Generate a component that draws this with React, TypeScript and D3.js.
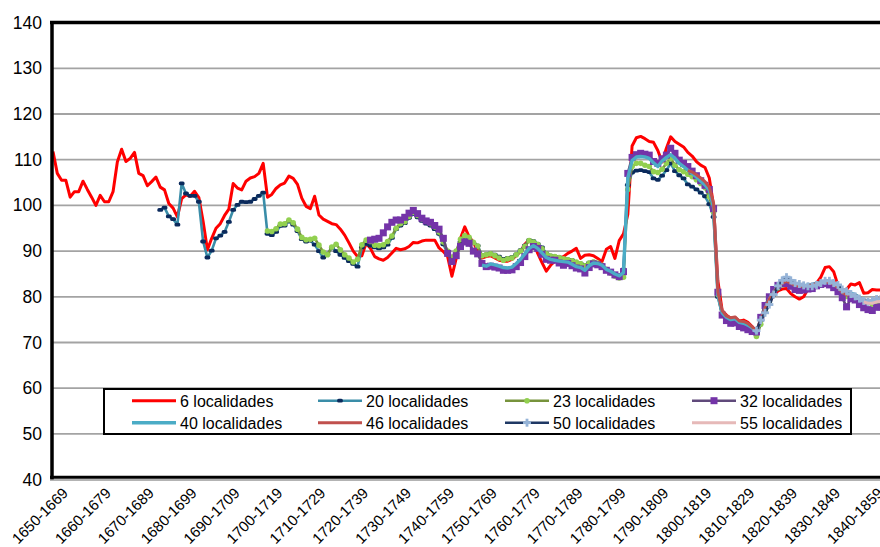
import React from 'react';
import * as d3 from 'd3';

const W = 880;
const H = 547;

const tickLabels = ['1650-1669','1660-1679','1670-1689','1680-1699','1690-1709','1700-1719','1710-1729','1720-1739','1730-1749','1740-1759','1750-1769','1760-1779','1770-1789','1780-1799','1790-1809','1800-1819','1810-1829','1820-1839','1830-1849','1840-1859'];
const yTicks = [40, 50, 60, 70, 80, 90, 100, 110, 120, 130, 140];

// each series: first start-year of its 20-year window, then one value per year
const s6Start = 1650;
const s6 = [111.8,107,105.5,105.5,101.8,103,103,105.3,103.5,101.8,
100,102.2,100.8,100.8,103,109.5,112.3,109.6,110.3,111.6,
107,106.5,104.3,105.2,106.2,104,103.4,100.4,99.4,97.5,
101.5,102.3,102,103.1,101.7,96.5,90.3,92.8,95,96,
97.8,99.2,104.8,103.8,103.4,105.3,106,106.3,107,109.2,
101.8,102.4,103.7,104.5,104.9,106.4,105.9,104.6,101.6,99.8,
99.3,102,97.9,97,96.5,96,95.8,94.8,93.5,91.8,
90,88.8,89,91.7,90.6,88.8,88.3,88,88.6,89.6,
90.6,90.3,90.5,91,91.9,91.8,92.2,92.4,92.4,92.4,
90.7,89.9,88.8,84.5,88.4,92.8,95.3,93.1,92,89.9,
88.5,88.8,89,88.5,88,87.8,87.8,88.2,89,90,
91.5,92.5,92,89.5,87.5,85.6,86.9,87.8,88.3,88.8,
89.5,90,90.6,88.4,89.1,89.2,89,88.4,87.7,90.4,
91,88.4,92.3,93.8,98,113,114.8,115.1,114.6,114,
113.8,112,109.5,112.5,115,114,113.4,112.8,111.6,110.8,
109.6,108.8,108.3,106,100,83.5,77,76,75.3,75.5,
74.7,74.9,74.4,73.5,72.4,74.8,77,78.9,80.3,81.3,
81.7,81.8,80.7,80,79.5,80,81.7,82.5,83,84.3,
86.4,86.6,85.5,82.5,81.4,81.6,82.8,82.6,83.1,80.8,
80.9,81.6,81.5,81.5];

const s20Start = 1675;
const s20 = [99,99.5,97.6,97,95.8,104.8,102.6,102.1,102.1,100.8,
92.1,88.6,90.1,92.8,93.4,94.2,96.4,99,100.1,100.8,
100.7,100.8,101.4,102.1,102.8,93.8,93.5,94.2,95.5,95.6,
96.5,95.8,94.4,92.6,92.1,92.3,91.4,90,88.6,89.3,
90.8,90,89.2,88.5,87.8,87.2,86.6,90.8,91.6,91.2,
90.8,90.6,90.8,91.4,92.9,94.8,95.6,96.1,97.3,98.2,
97.4,96.6,96,95.6,94.8,93.8,91.5,89.5,88,89.5,
92,93.2,92.8,91.8,91.2,89,89.3,89.5,89.2,88.8,
88.3,88.5,88.7,89.3,90.2,91.2,92.4,92.2,91.6,90.8,
89.5,89,88.8,88.7,88.3,88.2,88,87.5,87.3,87,
87.5,87.7,87.3,86.8,86,85.4,84.8,84.5,86,104.5,
107.2,107.6,107.7,107.5,107.3,105.9,105.6,106.5,107.7,109.2,
107.5,106.6,105.9,104.6,104.1,103.5,102.8,102,100.3,97.5,
80,76,75,74.8,75,74.3,74.2,73.7,73,72,
74.8,77,79,80.5,81.8,82.8,83.5,83,82.2,82,
82,82.2,82.2,82.5,82.8,83,82.8,82.4,81.8,80.8,
80.3,80.6,80.2,79.6,79.2,78.8,78.6,79,79];

const s23Start = 1700;
const s23 = [94.4,94.3,94.9,95.9,96,96.8,96.2,94.8,93,92.5,
92.6,92.8,91.3,89.8,89.2,90.9,91.5,90.3,89.2,88.5,
87.6,88.2,91.4,92.4,92.1,91.3,91.2,91.4,92.1,93.3,
95,96,96.4,97.6,98.5,97.8,97,96.5,96,95.3,
94.2,92,90,88.6,90,92.6,93.4,93,91.9,91.1,
89,89.2,89.4,89,88.5,88,88.3,88.5,89.2,90,
91,92.3,92,91.5,90.5,89.4,88.9,88.8,88.6,88.3,
88.1,87.9,87.6,87.2,86.8,87.4,87.6,87.4,86.9,86,
85.2,84.5,84.1,84.3,103.5,108.5,109.2,109.2,108.8,108.5,
107.4,107.2,107.9,109.2,110.3,108.8,107.8,107.4,106.8,106.3,
105.6,104.8,103.9,101.9,98.5,80.5,76,75.2,74.8,74.9,
74.2,73.8,73.3,72.6,71.3,74,76.8,79.2,80.8,82,
82.6,83.1,82.8,82.2,81.9,81.9,82.1,82.2,82.4,82.6,
82.8,82.6,82.3,81.6,80.7,80.1,80.4,80,79.4,79,
78.7,78.4,78.8,78.8];

const s32Start = 1724;
const s32 = [92.4,92.6,92.8,94,95.3,96.3,96.8,96.8,97.4,98.3,
98.9,98.2,97.2,96.6,96.3,95.6,94.8,92.8,89.5,87.7,
89,91,92,91.7,90,89.4,87.3,86.6,86.7,86.5,
86.3,85.8,85.8,85.9,86.6,87.5,88.8,90.3,91,90.6,
89.3,88.2,88,88,87.4,86.9,87.3,86.8,86.3,86.1,
85.2,86.4,87.2,87,86.6,85.8,85.4,84.8,84.4,85.5,
107,110.5,111.1,111.4,111.2,111,109.6,109.2,110.2,111,
112.5,111.4,109.9,109.2,108.5,107.5,106.5,105.4,104.4,103.5,
99.3,81,76,74.8,74.2,74.3,73.5,73.2,72.8,72.4,
72.3,75.5,78.1,80,81.6,82.5,82.9,82.9,82.3,81.6,
81.4,81.5,81.7,81.8,82.4,82.7,82.9,82.6,82,81.1,
79.8,77.8,79.6,79.3,78.3,77.6,77.2,77,77.7,77.8];

const s40Start = 1750;
const s40 = [86.9,86.7,87.2,87,86.7,86.4,86.3,86.5,87.3,88.2,
89.4,90.6,91.2,90.6,89.6,88.6,88.2,88,87.8,87.7,
87.6,87.1,86.6,86.4,85.8,86.8,87.4,87.3,86.9,86,
85.6,85,84.6,85.3,106,109.8,110.6,110.7,110.6,110.3,
109.3,108.5,109.7,110.5,111.1,110.3,109.2,108.5,107.7,107,
106.2,105.3,104.5,103.3,99.5,80.5,76.5,75.5,75,75.2,
74.4,74.2,73.8,73.2,72.2,74.8,77.4,79.5,81,82.2,
83.2,83.6,83.1,82.6,82.4,82.4,82.6,82.7,83,83.2,
83.4,83.2,82.8,82.2,81.2,80.6,80.8,80.5,79.8,79.3,
79,78.8,79.2,79.2];

const s46Start = 1798;
const s46 = [107.6,107.3,106.7,106,105.2,104,100.5,81,77,75.8,
75.4,75.6,74.7,74.6,74.2,73.4,72.5,75,77.5,79.5,
81,82.2,83,83.4,83,82.5,82.3,82.3,82.5,82.6,
82.9,83.1,83.3,83.1,82.7,82,81,80.4,80.6,80.3,
79.6,79.2,79,78.7,79.1,79.1];

const s50Start = 1814;
const s50 = [72.6,74.9,76.5,78.3,80.5,82.4,83.6,84.3,83.6,83,
82.8,82.5,82.3,82.3,82.6,83,83.5,83.5,83,82.6,
81.6,81.2,80.6,80.1,79.6,79.1,78.9,79.2,79.5,79.5];

const s55Start = 1839;
const s55 = [78.9,78.6,78.6,78.9,79];

type Marker = 'none' | 'dash' | 'dot' | 'square' | 'plus';
interface Series { name: string; start: number; values: number[]; color: string; width: number; marker: Marker; markerColor: string; }

const series: Series[] = [
  { name: '6 localidades', start: s6Start, values: s6, color: '#FF0000', width: 3, marker: 'none', markerColor: '' },
  { name: '20 localidades', start: s20Start, values: s20, color: '#3A8DA8', width: 2.6, marker: 'dash', markerColor: '#0B2A5C' },
  { name: '23 localidades', start: s23Start, values: s23, color: '#77933C', width: 2.6, marker: 'dot', markerColor: '#92D050' },
  { name: '32 localidades', start: s32Start, values: s32, color: '#604A7B', width: 2.6, marker: 'square', markerColor: '#7434A8' },
  { name: '40 localidades', start: s40Start, values: s40, color: '#4BACC6', width: 3.4, marker: 'none', markerColor: '' },
  { name: '46 localidades', start: s46Start, values: s46, color: '#C0504D', width: 3, marker: 'none', markerColor: '' },
  { name: '50 localidades', start: s50Start, values: s50, color: '#1F3864', width: 2.6, marker: 'plus', markerColor: '#95B3D7' },
  { name: '55 localidades', start: s55Start, values: s55, color: '#E6B9B8', width: 3, marker: 'none', markerColor: '' },
];

const FONT = "'Liberation Sans', Arial, Helvetica, sans-serif";

function MarkerShape({ type, color, cx, cy }: { type: Marker; color: string; cx: number; cy: number }) {
  if (type === 'dash') return <rect x={cx - 2.9} y={cy - 1.9} width={5.8} height={3.8} rx={1.6} fill={color} />;
  if (type === 'dot') return <circle cx={cx} cy={cy} r={2.8} fill={color} />;
  if (type === 'square') return <rect x={cx - 3.5} y={cy - 3.5} width={7} height={7} fill={color} />;
  if (type === 'plus') return (
    <g stroke={color} strokeWidth={2.8}>
      <line x1={cx - 4} x2={cx + 4} y1={cy} y2={cy} />
      <line x1={cx} x2={cx} y1={cy - 4} y2={cy + 4} />
    </g>
  );
  return null;
}

export default function App() {
  const x = d3.scaleLinear().domain([1650, 1840]).range([53, 868]);
  const y = d3.scaleLinear().domain([40, 140]).range([479.6, 22.6]);
  const line = d3.line<[number, number]>().x(d => x(d[0])).y(d => y(d[1]));

  const legendCols = [132, 318, 505, 692];
  const legendRows = [400.7, 422.7];

  return (
    <svg width={W} height={H} style={{ position: 'absolute', left: 0, top: 0, display: 'block', background: '#fff' }} fontFamily={FONT}>
      {yTicks.filter(t => t > 40 && t < 140).map(t => (
        <line key={t} x1={52} x2={W} y1={y(t)} y2={y(t)} stroke="#A3A3A3" strokeWidth={1.8} />
      ))}
      {yTicks.map(t => (
        <text key={t} x={42} y={y(t) + 6} textAnchor="end" fontSize={17.5} fill="#000">{t}</text>
      ))}
      {series.map(s => {
        const pts: [number, number][] = s.values.map((v, k) => [s.start + k, v]);
        return (
          <g key={s.name}>
            <path d={line(pts) || ''} fill="none" stroke={s.color} strokeWidth={s.width} strokeLinejoin="round" />
            {s.marker !== 'none' && pts.map((p, k) => (
              <MarkerShape key={k} type={s.marker} color={s.markerColor} cx={x(p[0])} cy={y(p[1])} />
            ))}
          </g>
        );
      })}
      {/* plot border */}
      <line x1={50} x2={W} y1={22.6} y2={22.6} stroke="#000" strokeWidth={3.5} />
      <line x1={52} x2={52} y1={21} y2={480} stroke="#000" strokeWidth={3.5} />
      <line x1={50} x2={W} y1={477.2} y2={477.2} stroke="#000" strokeWidth={3} />
      <line x1={50} x2={W} y1={480} y2={480} stroke="#9A9A9A" strokeWidth={1.6} />
      {tickLabels.map((lab) => {
        const yr = +lab.slice(0, 4);
        const ax = x(yr) + 16;
        const ay = 494;
        return (
          <text key={lab} x={ax} y={ay} transform={`rotate(-45 ${ax} ${ay})`} textAnchor="end" fontSize={15} fill="#000">{lab}</text>
        );
      })}
      {/* legend */}
      <rect x={104} y={389} width={747} height={45} fill="#fff" stroke="#000" strokeWidth={2} />
      {series.map((s, k) => {
        const lx = legendCols[k % 4];
        const ly = legendRows[Math.floor(k / 4)];
        return (
          <g key={'lg' + s.name}>
            <line x1={lx} x2={lx + 44} y1={ly} y2={ly} stroke={s.color} strokeWidth={s.width} />
            {s.marker !== 'none' && <MarkerShape type={s.marker} color={s.markerColor} cx={lx + 22} cy={ly} />}
            <text x={lx + 48} y={ly + 5.8} fontSize={16} fill="#000">{s.name}</text>
          </g>
        );
      })}
    </svg>
  );
}
